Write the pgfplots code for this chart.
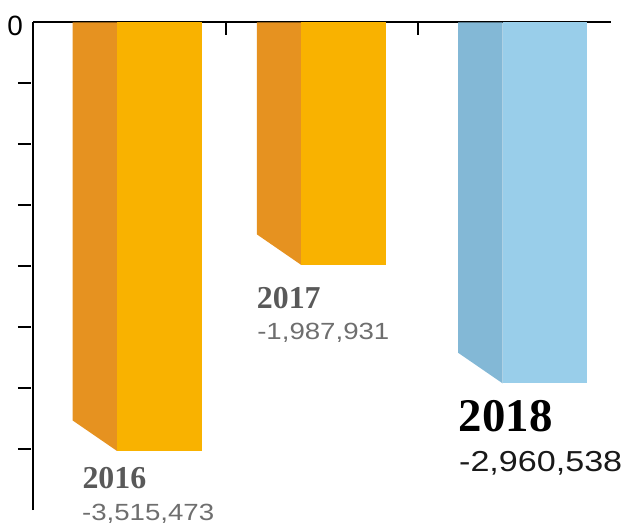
\documentclass[border=0pt]{standalone}
\usepackage{pgfplots}
\pgfplotsset{compat=1.18}
\usepackage{fontspec}
\setmainfont{Liberation Sans}
\newfontfamily\yearfont{Liberation Serif}
\newfontfamily\numfont{Liberation Sans}[FakeStretch=1.18]
\newfontfamily\zerofont{Liberation Sans}
\definecolor{orgside}{HTML}{E69220}
\definecolor{orgfront}{HTML}{F9B200}
\definecolor{blueside}{HTML}{83B8D6}
\definecolor{bluefront}{HTML}{99CEEA}
\definecolor{lblgray}{HTML}{595959}
\definecolor{numgray}{HTML}{6E6E6E}
\begin{document}
\begin{tikzpicture}
\path[use as bounding box] (0,0) rectangle (630bp,529bp);
\begin{axis}[
  at={(33bp,19bp)}, anchor=south west,
  scale only axis, width=578bp, height=487.5bp,
  xmin=0, xmax=3, ymin=-4000000, ymax=0,
  axis x line*=top, axis y line*=left,
  axis line style={line width=2bp,-},
  clip=false,
  xtick={1,2}, xticklabels={},
  x tick style={line width=2bp, black},
  y tick style={line width=2bp, black, xshift=-15bp},
  tick align=inside, major tick length=13bp,
  ytick={-3500000,-3000000,-2500000,-2000000,-1500000,-1000000,-500000},
  yticklabels={},
  scaled y ticks=false,
  /pgf/number format/assume math mode=true,
  yticklabel style={inner sep=0pt, xshift=-10bp, yshift=-3bp},
  extra y ticks={0}, extra y tick labels={\zerofont\fontsize{28}{28}\selectfont 0},
  extra y tick style={major tick length=0pt},
]
% 2016
\addplot[fill=orgside, draw=none] coordinates {(0.206,0) (0.436,0) (0.436,-3515473) (0.206,-3265473)} --cycle;
\addplot[fill=orgfront, draw=none] coordinates {(0.436,0) (0.877,0) (0.877,-3515473) (0.436,-3515473)} --cycle;
% 2017
\addplot[fill=orgside, draw=none] coordinates {(1.1615,0) (1.391,0) (1.391,-1987931) (1.1615,-1737931)} --cycle;
\addplot[fill=orgfront, draw=none] coordinates {(1.391,0) (1.831,0) (1.831,-1987931) (1.391,-1987931)} --cycle;
% 2018
\addplot[fill=blueside, draw=none] coordinates {(2.207,0) (2.437,0) (2.437,-2960538) (2.207,-2710538)} --cycle;
\addplot[fill=bluefront, draw=none] coordinates {(2.437,0) (2.875,0) (2.875,-2960538) (2.437,-2960538)} --cycle;
% labels
\node[anchor=base west, inner sep=0, text=lblgray, font=\yearfont\bfseries\fontsize{32}{32}\selectfont] at (axis cs:0.256,-3827000) {2016};
\node[anchor=base west, inner sep=0, text=numgray, font=\numfont\fontsize{23.5}{23.5}\selectfont] at (axis cs:0.254,-4087000) {-3,515,473};
\node[anchor=base west, inner sep=0, text=lblgray, font=\yearfont\bfseries\fontsize{32}{32}\selectfont] at (axis cs:1.161,-2350500) {2017};
\node[anchor=base west, inner sep=0, text=numgray, font=\numfont\fontsize{23.5}{23.5}\selectfont] at (axis cs:1.163,-2605000) {-1,987,931};
\node[anchor=base west, inner sep=0, text=black, font=\yearfont\bfseries\fontsize{47}{47}\selectfont] at (axis cs:2.209,-3359500) {2018};
\node[anchor=base west, inner sep=0, text=black!90, font=\numfont\fontsize{29}{29}\selectfont] at (axis cs:2.211,-3685000) {-2,960,538};
\end{axis}
\end{tikzpicture}
\end{document}
